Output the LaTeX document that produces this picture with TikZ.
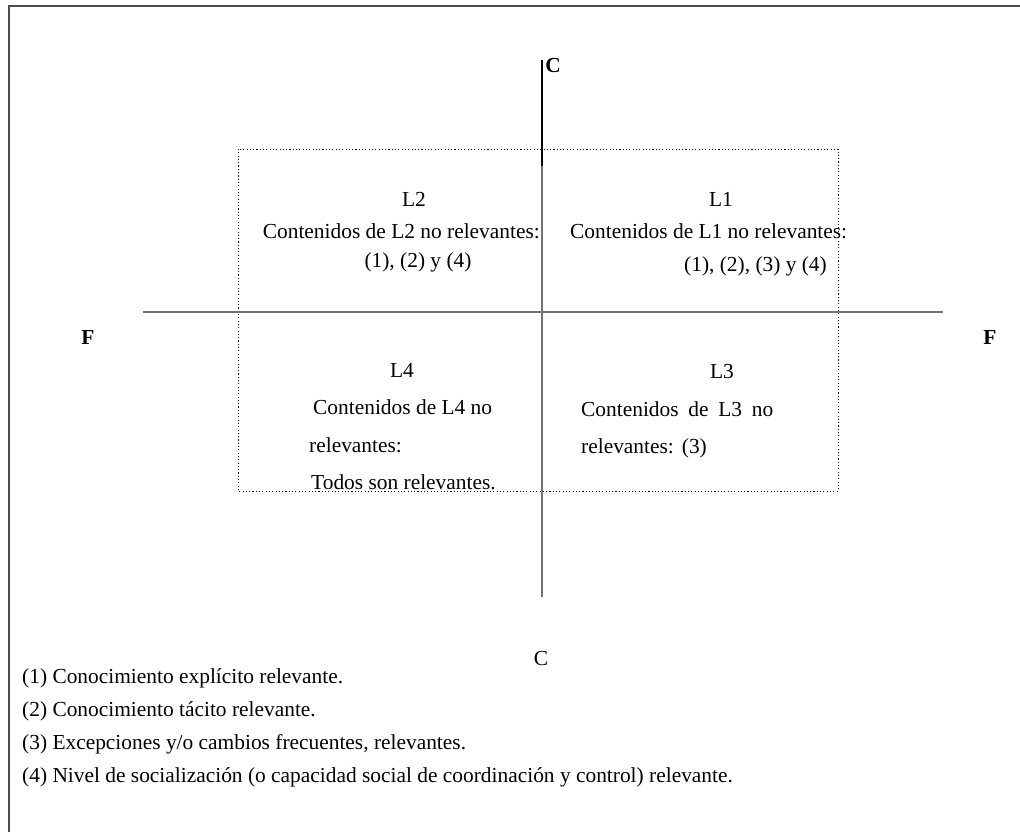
\documentclass[tikz,border=0pt]{standalone}
\usepackage{fontspec}
\setmainfont{Liberation Serif}
\begin{document}
\begin{tikzpicture}[x=1pt,y=-1pt,
  txt/.style={inner sep=0pt,font=\fontsize{21.4}{25}\selectfont},
  btxt/.style={inner sep=0pt,font=\fontsize{21.4}{25}\selectfont\bfseries},
  axis/.style={draw=black!55,line width=1.8pt},
  frameline/.style={draw=black!70,line width=2pt},
  dotbox/.style={draw=black,line width=0.9pt,dash pattern=on 1.1pt off 2.2pt}]
\useasboundingbox (0,0) rectangle (1020,832);
\fill[white] (0,0) rectangle (1020,832);
% outer frame
\coordinate (fbl) at (9,832);
\coordinate (ftl) at (9,6);
\coordinate (ftr) at (1020,6);
\draw[frameline] (fbl) -- (ftl) -- (ftr);
% dotted box
\coordinate (box1) at (238,149);
\coordinate (box2) at (838,491);
\draw[dotbox] (box1) rectangle (box2);
% axes
\coordinate (vtop) at (542,60);
\coordinate (vmid) at (542,166);
\coordinate (vbot) at (542,597);
\coordinate (hl) at (143,312);
\coordinate (hr) at (943,312);
\draw[axis] (hl) -- (hr);
\draw[axis] (vmid) -- (vbot);
\draw[draw=black,line width=1.3pt] (vtop) -- (vmid);
% axis labels
\node[btxt] (ctop) at (553,66) {C};
\node[txt] (cbot) at (541,659) {C};
\node[btxt] (fleft) at (88,337) {F};
\node[btxt] (fright) at (990,337) {F};
% L2
\node[txt] (l2) at (414,199) {L2};
\node[txt,anchor=east] (l2a) at (540,231) {Contenidos de L2 no relevantes:};
\node[txt] (l2b) at (418,262) {(1), (2) y (4)};
% L1
\node[txt] (l1) at (721,199) {L1};
\node[txt,anchor=west] (l1a) at (570,231) {Contenidos de L1 no relevantes:};
\node[txt,anchor=east] (l1b) at (827,266) {(1), (2), (3) y (4)};
% L4
\node[txt] (l4) at (402,370) {L4};
\node[txt,anchor=west] (l4a) at (313,407) {Contenidos de L4 no};
\node[txt,anchor=west] (l4b) at (309,445) {relevantes:};
\node[txt,anchor=west] (l4c) at (311,482) {Todos son relevantes.};
% L3
\node[txt] (l3) at (722,372) {L3};
\node[txt,anchor=west] (l3a) at (581,409) {\makebox[192pt][s]{Contenidos de L3 no}};
\node[txt,anchor=west] (l3b) at (581,448) {relevantes:\hspace{8pt}(3)};
% legend
\node[txt,anchor=west] (n1) at (22,678) {(1) Conocimiento explícito relevante.};
\node[txt,anchor=west] (n2) at (22,711) {(2) Conocimiento tácito relevante.};
\node[txt,anchor=west] (n3) at (22,744) {(3) Excepciones y/o cambios frecuentes, relevantes.};
\node[txt,anchor=west] (n4) at (22,777) {(4) Nivel de socialización (o capacidad social de coordinación y control) relevante.};
\end{tikzpicture}
\end{document}
